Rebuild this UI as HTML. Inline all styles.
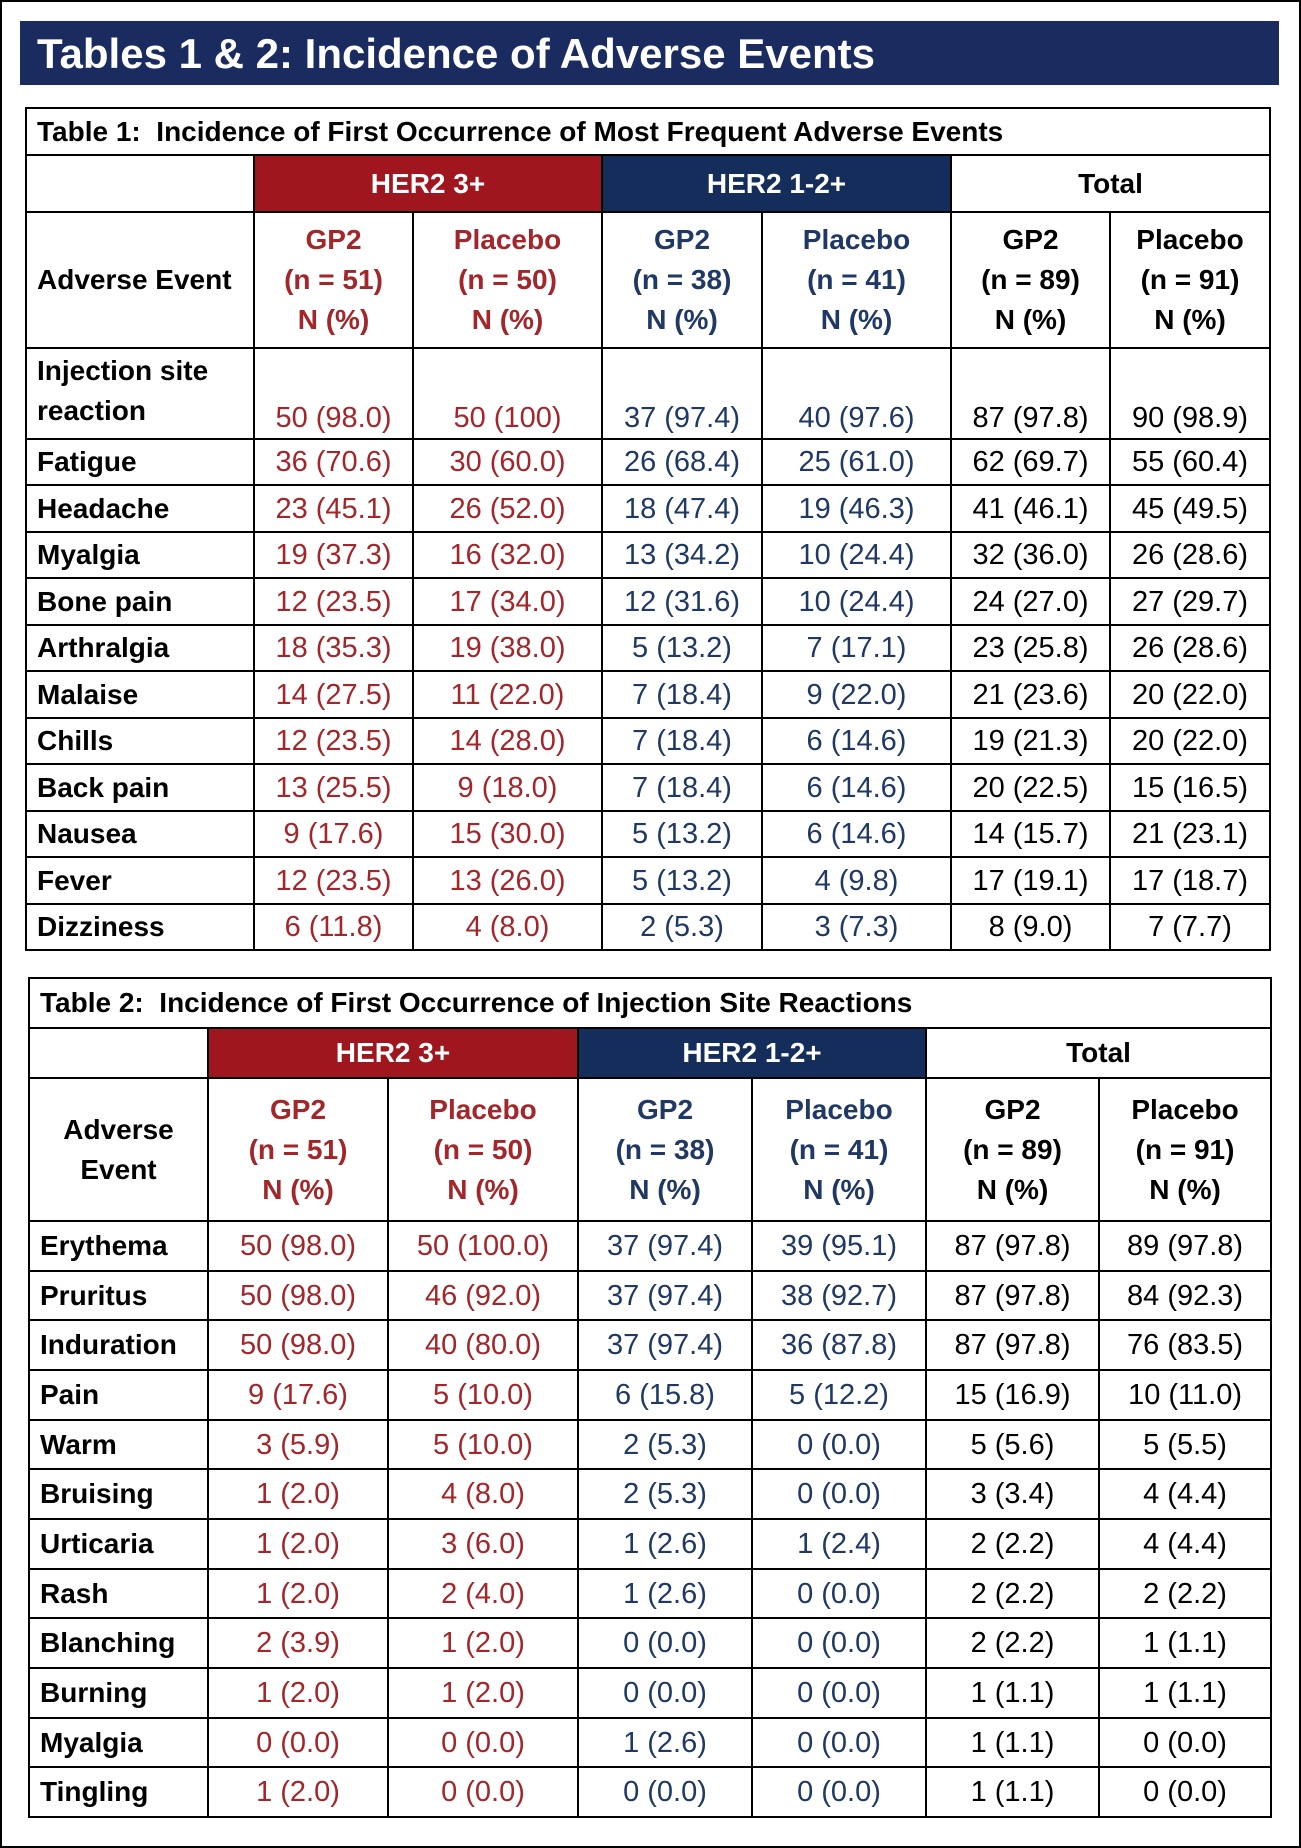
<!DOCTYPE html>
<html><head><meta charset="utf-8"><style>
body{margin:0;width:1301px;height:1848px;background:#fff;position:relative;overflow:hidden;font-family:"Liberation Sans",sans-serif}
.frame{position:absolute;left:0;top:0;width:1297px;height:1844px;border:2px solid #000}
.bar{position:absolute;left:20px;top:21px;width:1259px;height:64px;background:#1a2b5f;color:#fff;font-weight:bold;font-size:42px;line-height:66px;padding-left:17px;box-sizing:border-box}
table{position:absolute;border-collapse:collapse;table-layout:fixed}
td{border:2px solid #000;padding:0;text-align:center;vertical-align:middle;font-size:29px;line-height:40px;white-space:nowrap;overflow:hidden}
td.t{text-align:left;font-weight:bold;font-size:28px;padding-left:10px}
td.n{text-align:left;font-weight:bold;font-size:28px;padding-left:10px;color:#000}
.R{color:#a3262a}.B{color:#1f3864}.K{color:#000}
.hr{background:#a0161f;color:#fff;font-weight:bold;font-size:28px}
.hb{background:#152d5a;color:#fff;font-weight:bold;font-size:28px}
.hk{color:#000;font-weight:bold;font-size:28px}
.sh{font-weight:bold;font-size:28px;line-height:40px}
</style></head><body>
<div class="frame"></div>
<div class="bar">Tables 1 &amp; 2: Incidence of Adverse Events</div>

<table style="left:25px;top:107px;width:1244px">
<colgroup><col style="width:228px"><col style="width:159px"><col style="width:189px"><col style="width:160px"><col style="width:189px"><col style="width:159px"><col style="width:160px"></colgroup>
<tr style="height:47px"><td class="t" colspan="7">Table 1:&nbsp; Incidence of First Occurrence of Most Frequent Adverse Events</td></tr>
<tr style="height:57px"><td></td><td class="hr" colspan="2">HER2 3+</td><td class="hb" colspan="2">HER2 1-2+</td><td class="hk" colspan="2">Total</td></tr>
<tr style="height:136px"><td class="n">Adverse Event</td>
<td class="sh R">GP2<br>(n = 51)<br>N (%)</td><td class="sh R">Placebo<br>(n = 50)<br>N (%)</td>
<td class="sh B">GP2<br>(n = 38)<br>N (%)</td><td class="sh B">Placebo<br>(n = 41)<br>N (%)</td>
<td class="sh K">GP2<br>(n = 89)<br>N (%)</td><td class="sh K">Placebo<br>(n = 91)<br>N (%)</td></tr>
<tr style="height:91px"><td class="n" style="vertical-align:top;padding-top:2px">Injection site<br>reaction</td>
<td class="R" style="vertical-align:bottom">50 (98.0)</td><td class="R" style="vertical-align:bottom">50 (100)</td><td class="B" style="vertical-align:bottom">37 (97.4)</td><td class="B" style="vertical-align:bottom">40 (97.6)</td><td style="vertical-align:bottom">87 (97.8)</td><td style="vertical-align:bottom">90 (98.9)</td></tr>
<tr style="height:46px"><td class="n">Fatigue</td><td class="R">36 (70.6)</td><td class="R">30 (60.0)</td><td class="B">26 (68.4)</td><td class="B">25 (61.0)</td><td>62 (69.7)</td><td>55 (60.4)</td></tr>
<tr style="height:47px"><td class="n">Headache</td><td class="R">23 (45.1)</td><td class="R">26 (52.0)</td><td class="B">18 (47.4)</td><td class="B">19 (46.3)</td><td>41 (46.1)</td><td>45 (49.5)</td></tr>
<tr style="height:46px"><td class="n">Myalgia</td><td class="R">19 (37.3)</td><td class="R">16 (32.0)</td><td class="B">13 (34.2)</td><td class="B">10 (24.4)</td><td>32 (36.0)</td><td>26 (28.6)</td></tr>
<tr style="height:47px"><td class="n">Bone pain</td><td class="R">12 (23.5)</td><td class="R">17 (34.0)</td><td class="B">12 (31.6)</td><td class="B">10 (24.4)</td><td>24 (27.0)</td><td>27 (29.7)</td></tr>
<tr style="height:46px"><td class="n">Arthralgia</td><td class="R">18 (35.3)</td><td class="R">19 (38.0)</td><td class="B">5 (13.2)</td><td class="B">7 (17.1)</td><td>23 (25.8)</td><td>26 (28.6)</td></tr>
<tr style="height:47px"><td class="n">Malaise</td><td class="R">14 (27.5)</td><td class="R">11 (22.0)</td><td class="B">7 (18.4)</td><td class="B">9 (22.0)</td><td>21 (23.6)</td><td>20 (22.0)</td></tr>
<tr style="height:46px"><td class="n">Chills</td><td class="R">12 (23.5)</td><td class="R">14 (28.0)</td><td class="B">7 (18.4)</td><td class="B">6 (14.6)</td><td>19 (21.3)</td><td>20 (22.0)</td></tr>
<tr style="height:47px"><td class="n">Back pain</td><td class="R">13 (25.5)</td><td class="R">9 (18.0)</td><td class="B">7 (18.4)</td><td class="B">6 (14.6)</td><td>20 (22.5)</td><td>15 (16.5)</td></tr>
<tr style="height:46px"><td class="n">Nausea</td><td class="R">9 (17.6)</td><td class="R">15 (30.0)</td><td class="B">5 (13.2)</td><td class="B">6 (14.6)</td><td>14 (15.7)</td><td>21 (23.1)</td></tr>
<tr style="height:47px"><td class="n">Fever</td><td class="R">12 (23.5)</td><td class="R">13 (26.0)</td><td class="B">5 (13.2)</td><td class="B">4 (9.8)</td><td>17 (19.1)</td><td>17 (18.7)</td></tr>
<tr style="height:46px"><td class="n">Dizziness</td><td class="R">6 (11.8)</td><td class="R">4 (8.0)</td><td class="B">2 (5.3)</td><td class="B">3 (7.3)</td><td>8 (9.0)</td><td>7 (7.7)</td></tr>
</table>

<table style="left:28px;top:977px;width:1242px">
<colgroup><col style="width:179px"><col style="width:180px"><col style="width:190px"><col style="width:174px"><col style="width:174px"><col style="width:173px"><col style="width:172px"></colgroup>
<tr style="height:50px"><td class="t" colspan="7">Table 2:&nbsp; Incidence of First Occurrence of Injection Site Reactions</td></tr>
<tr style="height:50px"><td></td><td class="hr" colspan="2">HER2 3+</td><td class="hb" colspan="2">HER2 1-2+</td><td class="hk" colspan="2">Total</td></tr>
<tr style="height:143px"><td class="sh K">Adverse<br>Event</td>
<td class="sh R">GP2<br>(n = 51)<br>N (%)</td><td class="sh R">Placebo<br>(n = 50)<br>N (%)</td>
<td class="sh B">GP2<br>(n = 38)<br>N (%)</td><td class="sh B">Placebo<br>(n = 41)<br>N (%)</td>
<td class="sh K">GP2<br>(n = 89)<br>N (%)</td><td class="sh K">Placebo<br>(n = 91)<br>N (%)</td></tr>
<tr style="height:50px"><td class="n">Erythema</td><td class="R">50 (98.0)</td><td class="R">50 (100.0)</td><td class="B">37 (97.4)</td><td class="B">39 (95.1)</td><td>87 (97.8)</td><td>89 (97.8)</td></tr>
<tr style="height:49px"><td class="n">Pruritus</td><td class="R">50 (98.0)</td><td class="R">46 (92.0)</td><td class="B">37 (97.4)</td><td class="B">38 (92.7)</td><td>87 (97.8)</td><td>84 (92.3)</td></tr>
<tr style="height:50px"><td class="n">Induration</td><td class="R">50 (98.0)</td><td class="R">40 (80.0)</td><td class="B">37 (97.4)</td><td class="B">36 (87.8)</td><td>87 (97.8)</td><td>76 (83.5)</td></tr>
<tr style="height:50px"><td class="n">Pain</td><td class="R">9 (17.6)</td><td class="R">5 (10.0)</td><td class="B">6 (15.8)</td><td class="B">5 (12.2)</td><td>15 (16.9)</td><td>10 (11.0)</td></tr>
<tr style="height:49px"><td class="n">Warm</td><td class="R">3 (5.9)</td><td class="R">5 (10.0)</td><td class="B">2 (5.3)</td><td class="B">0 (0.0)</td><td>5 (5.6)</td><td>5 (5.5)</td></tr>
<tr style="height:50px"><td class="n">Bruising</td><td class="R">1 (2.0)</td><td class="R">4 (8.0)</td><td class="B">2 (5.3)</td><td class="B">0 (0.0)</td><td>3 (3.4)</td><td>4 (4.4)</td></tr>
<tr style="height:50px"><td class="n">Urticaria</td><td class="R">1 (2.0)</td><td class="R">3 (6.0)</td><td class="B">1 (2.6)</td><td class="B">1 (2.4)</td><td>2 (2.2)</td><td>4 (4.4)</td></tr>
<tr style="height:49px"><td class="n">Rash</td><td class="R">1 (2.0)</td><td class="R">2 (4.0)</td><td class="B">1 (2.6)</td><td class="B">0 (0.0)</td><td>2 (2.2)</td><td>2 (2.2)</td></tr>
<tr style="height:50px"><td class="n">Blanching</td><td class="R">2 (3.9)</td><td class="R">1 (2.0)</td><td class="B">0 (0.0)</td><td class="B">0 (0.0)</td><td>2 (2.2)</td><td>1 (1.1)</td></tr>
<tr style="height:50px"><td class="n">Burning</td><td class="R">1 (2.0)</td><td class="R">1 (2.0)</td><td class="B">0 (0.0)</td><td class="B">0 (0.0)</td><td>1 (1.1)</td><td>1 (1.1)</td></tr>
<tr style="height:49px"><td class="n">Myalgia</td><td class="R">0 (0.0)</td><td class="R">0 (0.0)</td><td class="B">1 (2.6)</td><td class="B">0 (0.0)</td><td>1 (1.1)</td><td>0 (0.0)</td></tr>
<tr style="height:50px"><td class="n">Tingling</td><td class="R">1 (2.0)</td><td class="R">0 (0.0)</td><td class="B">0 (0.0)</td><td class="B">0 (0.0)</td><td>1 (1.1)</td><td>0 (0.0)</td></tr>
</table>
</body></html>
